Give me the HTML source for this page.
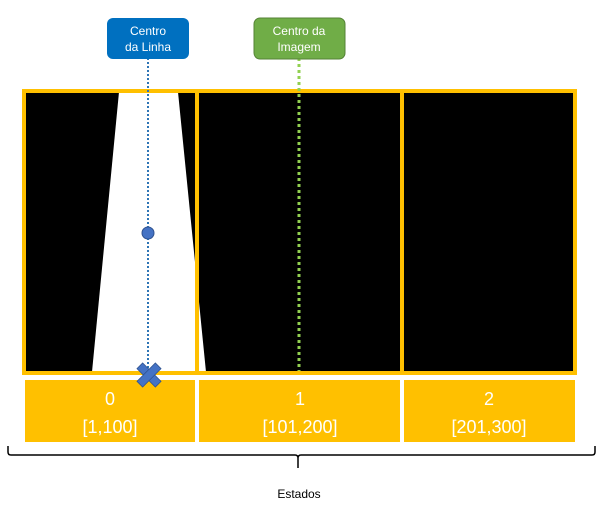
<!DOCTYPE html>
<html><head><meta charset="utf-8"><style>
html,body{margin:0;padding:0;background:#fff;}
svg{display:block;font-family:"Liberation Sans",Calibri,sans-serif;}
</style></head><body>
<svg width="603" height="510" viewBox="0 0 603 510">
  <rect x="24" y="91" width="551" height="282" fill="#000"/>
  <polygon points="119,92 178,92 206,372 92,372" fill="#fff"/>
  <rect x="24" y="91" width="551" height="282" fill="none" stroke="#FFC000" stroke-width="4"/>
  <line x1="197" y1="91" x2="197" y2="373" stroke="#FFC000" stroke-width="4"/>
  <line x1="402" y1="91" x2="402" y2="373" stroke="#FFC000" stroke-width="4"/>

  <line x1="148" y1="58" x2="148" y2="370" stroke="#2E75B6" stroke-width="2" stroke-dasharray="2,2"/>
  <line x1="299" y1="58" x2="299" y2="371" stroke="#92D050" stroke-width="3" stroke-dasharray="3,3"/>
  <circle cx="148" cy="233" r="6" fill="#4472C4" stroke="#2F528F" stroke-width="1"/>

  <g>
    <rect x="107" y="18" width="82" height="41" rx="6" fill="#0070C0"/>
    <text x="148" y="35" fill="#fff" font-size="12" text-anchor="middle">Centro</text>
    <text x="148" y="51" fill="#fff" font-size="12" text-anchor="middle">da Linha</text>
  </g>
  <g>
    <rect x="254" y="18" width="91" height="41" rx="6" fill="#70AD47" stroke="#548235" stroke-width="1"/>
    <text x="299" y="35" fill="#fff" font-size="12" text-anchor="middle">Centro da</text>
    <text x="299" y="51" fill="#fff" font-size="12" text-anchor="middle">Imagem</text>
  </g>

  <g>
    <rect x="25" y="380" width="170" height="62" fill="#FFC000"/>
    <text x="110" y="405" fill="#fff" font-size="18" text-anchor="middle">0</text>
    <text x="110" y="433" fill="#fff" font-size="18" text-anchor="middle">[1,100]</text>
  </g>
  <g>
    <rect x="199" y="380" width="201" height="62" fill="#FFC000"/>
    <text x="300" y="405" fill="#fff" font-size="18" text-anchor="middle">1</text>
    <text x="300" y="433" fill="#fff" font-size="18" text-anchor="middle">[101,200]</text>
  </g>
  <g>
    <rect x="404" y="380" width="171" height="62" fill="#FFC000"/>
    <text x="489" y="405" fill="#fff" font-size="18" text-anchor="middle">2</text>
    <text x="489" y="433" fill="#fff" font-size="18" text-anchor="middle">[201,300]</text>
  </g>

  <g transform="translate(149,375) rotate(45)">
    <rect x="-13" y="-4" width="26" height="8" fill="#4472C4" stroke="#2F528F" stroke-width="0.8"/>
    <rect x="-4" y="-13" width="8" height="26" fill="#4472C4" stroke="#2F528F" stroke-width="0.8"/>
    <rect x="-3.5" y="-3.5" width="7" height="7" fill="#4472C4"/>
  </g>

  <path d="M8,446 L8,452 Q8,455 11,455 L295,455 Q298,455 298,458 L298,468 M298,458 Q298,455 301,455 L592,455 Q595,455 595,452 L595,446" fill="none" stroke="#000" stroke-width="1.5"/>
  <text x="299" y="498" fill="#000" font-size="12" text-anchor="middle">Estados</text>
</svg>
</body></html>
